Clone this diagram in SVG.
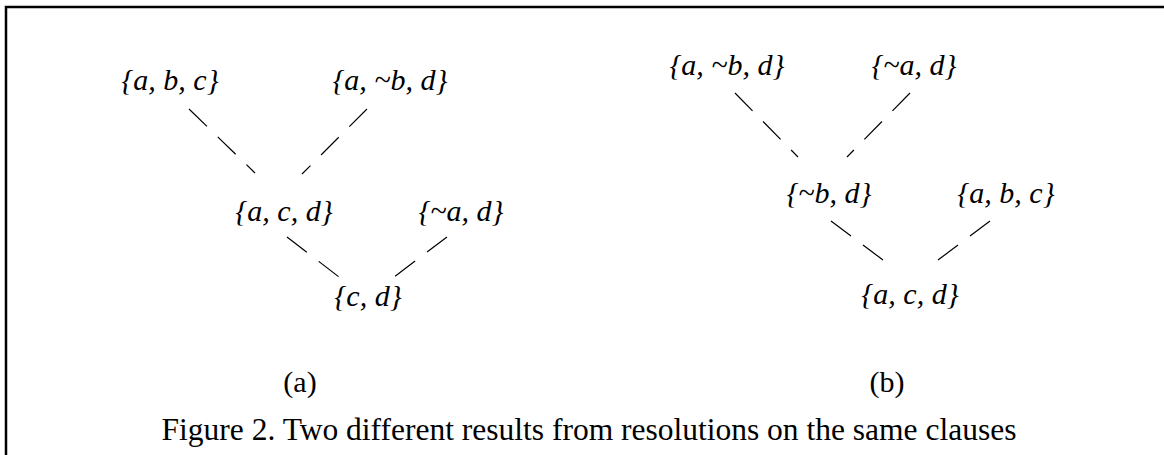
<svg xmlns="http://www.w3.org/2000/svg" width="1164" height="455" viewBox="0 0 1164 455">
<style>
.n{font-family:"Liberation Serif","Times New Roman",serif;font-style:italic;font-size:30px;fill:#000;text-anchor:middle}
.l{font-family:"Liberation Serif","Times New Roman",serif;font-size:30px;fill:#000;text-anchor:middle}
.cap{font-size:31.5px}
.c line{stroke:#000;stroke-width:1.2;stroke-dasharray:25 15}
</style>
<rect x="6" y="7" width="1170" height="470" fill="#fff" stroke="#000" stroke-width="2.5"/>
<g id="a1"><text class="n" x="170" y="90">{a, b, c}</text></g>
<g id="a2"><text class="n" x="390" y="90">{a, ~b, d}</text></g>
<g id="a3"><text class="n" x="284" y="221">{a, c, d}</text></g>
<g id="a4"><text class="n" x="461" y="221">{~a, d}</text></g>
<g id="a5"><text class="n" x="368" y="306">{c, d}</text></g>
<g id="b1"><text class="n" x="727" y="75">{a, ~b, d}</text></g>
<g id="b2"><text class="n" x="914" y="75">{~a, d}</text></g>
<g id="b3"><text class="n" x="829" y="203">{~b, d}</text></g>
<g id="b4"><text class="n" x="1006" y="203">{a, b, c}</text></g>
<g id="b5"><text class="n" x="910" y="304">{a, c, d}</text></g>
<g id="labels">
<text class="l" x="300" y="392">(a)</text>
<text class="l" x="887" y="392">(b)</text>
<text class="l cap" x="589" y="440">Figure 2. Two different results from resolutions on the same clauses</text>
</g>
<g class="c" id="connectors">
<line x1="189" y1="109" x2="255" y2="173"/>
<line x1="367" y1="109" x2="302" y2="174"/>
<line x1="287" y1="237" x2="339" y2="277"/>
<line x1="447" y1="237" x2="394" y2="277"/>
<line x1="735" y1="93" x2="798" y2="157"/>
<line x1="910" y1="93" x2="847" y2="157"/>
<line x1="831" y1="221" x2="883" y2="260"/>
<line x1="990" y1="221" x2="938" y2="260"/>
</g>
</svg>
